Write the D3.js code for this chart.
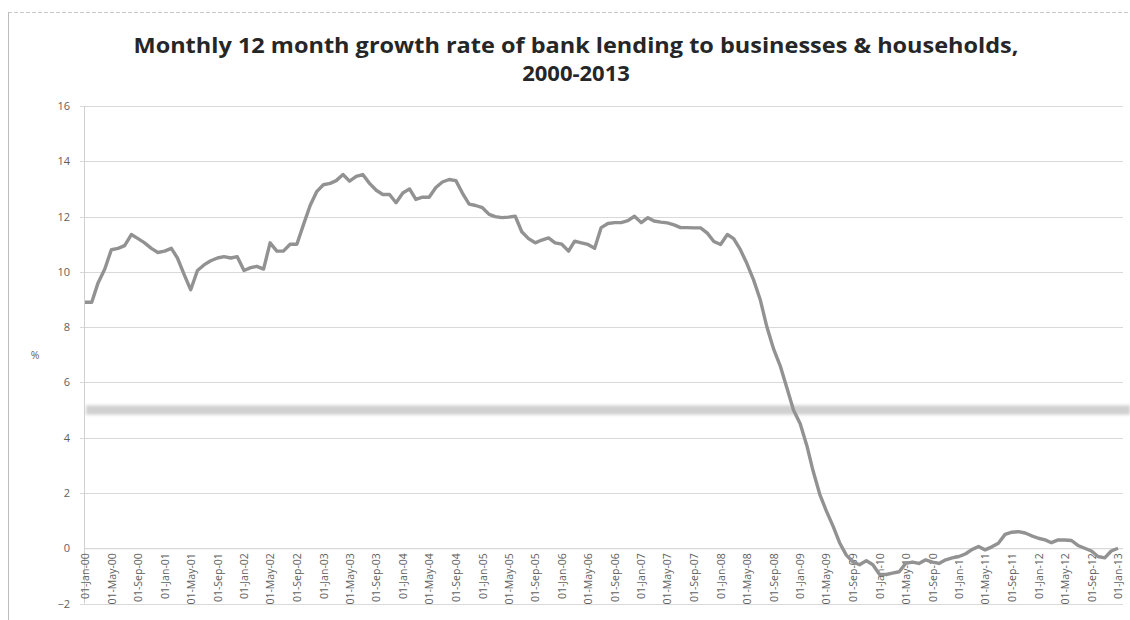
<!DOCTYPE html>
<html>
<head>
<meta charset="utf-8">
<script src="https://cdn.jsdelivr.net/npm/d3@7"></script>
<style>
  html, body { margin: 0; padding: 0; background: #ffffff; }
  svg { display: block; }
</style>
</head>
<body>
<svg id="chart" width="1130" height="620"></svg>
<script>
// Monthly 12-month growth rate of bank lending (%), Jan 2000 – Jan 2013
const startYear = 2000;
const startMonthIndex = 0; // January
const growthRate = [
  8.9, 8.9, 9.6, 10.1, 10.8, 10.85, 10.95, 11.35, 11.2, 11.05, 10.85, 10.7,
  10.75, 10.85, 10.5, 9.9, 9.35, 10.05, 10.25, 10.4, 10.5, 10.55, 10.5, 10.55,
  10.05, 10.15, 10.2, 10.1, 11.05, 10.75, 10.75, 11.0, 11.0, 11.7, 12.4, 12.9,
  13.15, 13.2, 13.3, 13.52, 13.28, 13.45, 13.52, 13.2, 12.95, 12.8, 12.8, 12.5,
  12.85, 13.0, 12.62, 12.7, 12.7, 13.05, 13.25, 13.34, 13.3, 12.85, 12.45, 12.4,
  12.32, 12.08, 12.0, 11.96, 11.98, 12.01, 11.45, 11.2, 11.05, 11.15, 11.23, 11.05,
  11.0, 10.75, 11.11, 11.05, 10.99, 10.85, 11.6, 11.75, 11.78, 11.78, 11.85, 12.01,
  11.78, 11.96, 11.84, 11.8, 11.77, 11.7, 11.6, 11.6, 11.59, 11.59, 11.4, 11.1,
  10.99, 11.35, 11.2, 10.8, 10.3, 9.7, 9.0, 8.0, 7.2, 6.6, 5.8, 5.0,
  4.5, 3.7, 2.8, 1.95, 1.35, 0.8, 0.2, -0.25, -0.5, -0.6, -0.45, -0.6,
  -0.95, -0.95, -0.9, -0.85, -0.55, -0.5, -0.55, -0.42, -0.5, -0.55, -0.42, -0.35,
  -0.3, -0.2, -0.05, 0.06, -0.06, 0.05, 0.18, 0.5, 0.58, 0.6, 0.55, 0.45,
  0.36, 0.3, 0.2, 0.3, 0.3, 0.28, 0.1, 0.0, -0.1, -0.3, -0.35, -0.1,
  0.0
];
const yTicks = [-2, 0, 2, 4, 6, 8, 10, 12, 14, 16];
const targetRate = 5;
const titleLines = [
  "Monthly 12 month growth rate of bank lending to businesses & households,",
  "2000-2013"
];
const yLabel = "%";

const months = growthRate.map((_, i) => new Date(startYear, startMonthIndex + i, 1));
const series = growthRate.map((v, i) => ({ date: months[i], value: v }));

const svg = d3.select("#chart");
const fontFamily = "'Open Sans', 'DejaVu Sans', sans-serif";

const x = d3.scaleTime()
  .domain([months[0], months[months.length - 1]])
  .range([85, 1118]);
const y = d3.scaleLinear()
  .domain([-2, 16])
  .range([603.5, 106]);

// outer chart frame
svg.append("line")
  .attr("x1", 8).attr("x2", 1130).attr("y1", 12.5).attr("y2", 12.5)
  .attr("stroke", "#c8c8c8").attr("stroke-width", 1)
  .attr("stroke-dasharray", "4,2");
svg.append("line")
  .attr("x1", 8.5).attr("x2", 8.5).attr("y1", 12).attr("y2", 620)
  .attr("stroke", "#bdbdbd").attr("stroke-width", 1);

// title
svg.append("g")
  .selectAll("text")
  .data(titleLines)
  .join("text")
  .attr("x", 576)
  .attr("y", (d, i) => 53 + i * 28)
  .attr("text-anchor", "middle")
  .attr("font-family", fontFamily)
  .attr("font-weight", "bold")
  .attr("font-size", 22)
  .attr("fill", "#262626")
  .each(function (d, i) {
    if (i === 0) d3.select(this).attr("textLength", 885).attr("lengthAdjust", "spacingAndGlyphs");
  })
  .text(d => d);

// horizontal gridlines
svg.append("g")
  .selectAll("line")
  .data(yTicks.filter(t => t !== 0))
  .join("line")
  .attr("x1", 80).attr("x2", 1123)
  .attr("y1", d => Math.round(y(d)) + 0.5)
  .attr("y2", d => Math.round(y(d)) + 0.5)
  .attr("stroke", "#d9d9d9").attr("stroke-width", 1);

// vertical axis line
svg.append("line")
  .attr("x1", 84.5).attr("x2", 84.5)
  .attr("y1", y(16)).attr("y2", y(-2))
  .attr("stroke", "#d0d0d0").attr("stroke-width", 1);

// y axis
const yAxis = d3.axisLeft(y)
  .tickValues(yTicks)
  .tickSize(0)
  .tickPadding(0)
  .tickFormat(d3.format("d"));
const yAxisG = svg.append("g")
  .attr("transform", "translate(70,0)")
  .call(yAxis);
yAxisG.select(".domain").remove();
yAxisG.selectAll("text")
  .attr("font-family", fontFamily)
  .attr("font-size", 11)
  .attr("fill", "#5e5e5e");

svg.append("text")
  .attr("x", 35).attr("y", 359)
  .attr("text-anchor", "middle")
  .attr("font-family", fontFamily)
  .attr("font-size", 10.5)
  .attr("fill", "#5e5e5e")
  .text(yLabel);

// soft reference band at the 5% level
const defs = svg.append("defs");
defs.append("filter").attr("id", "soft")
  .attr("filterUnits", "userSpaceOnUse")
  .attr("x", 0).attr("y", 0).attr("width", 1130).attr("height", 620)
  .append("feGaussianBlur").attr("stdDeviation", 1.6);
const bandHalf = 0.17;
svg.append("rect")
  .attr("x", 86)
  .attr("width", 1130 - 86)
  .attr("y", y(targetRate + bandHalf))
  .attr("height", y(targetRate - bandHalf) - y(targetRate + bandHalf))
  .attr("fill", "#d0d0d0")
  .attr("filter", "url(#soft)");

// x axis crossing at zero
const xAxis = d3.axisBottom(x)
  .ticks(d3.timeMonth.every(4))
  .tickSize(0)
  .tickPadding(0)
  .tickFormat(d3.timeFormat("%d-%b-%y"));
const xAxisG = svg.append("g")
  .attr("transform", `translate(0,${y(0)})`)
  .call(xAxis);
xAxisG.select(".domain")
  .attr("d", `M84,0.5H1123`)
  .attr("stroke", "#cfcfcf");
xAxisG.selectAll("text")
  .attr("font-family", fontFamily)
  .attr("font-size", 10.5)
  .attr("fill", "#5e5e5e")
  .attr("text-anchor", "end")
  .attr("dy", "0.35em")
  .attr("transform", "translate(0,5) rotate(-90)");

// growth-rate line
const line = d3.line()
  .x(d => x(d.date))
  .y(d => y(d.value));
svg.append("path")
  .datum(series)
  .attr("fill", "none")
  .attr("stroke", "#929292")
  .attr("stroke-width", 3.4)
  .attr("stroke-linejoin", "round")
  .attr("d", line);
</script>
</body>
</html>
